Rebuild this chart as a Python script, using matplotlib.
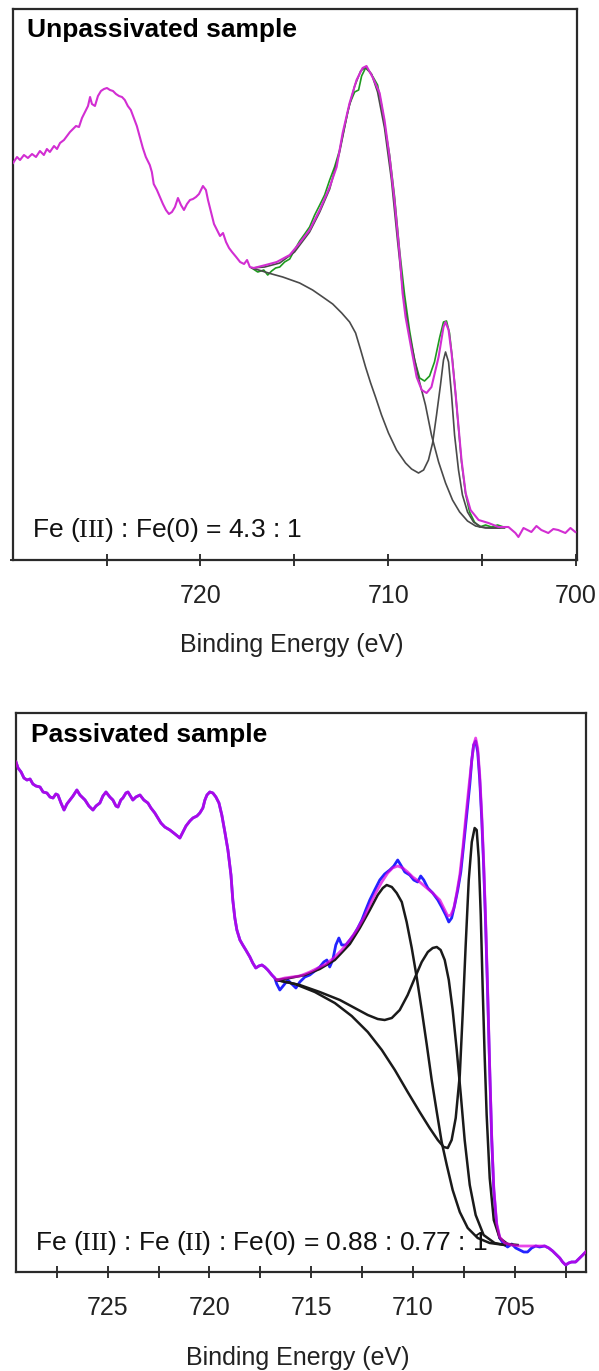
import matplotlib
matplotlib.use("Agg")
import matplotlib.pyplot as plt
from matplotlib.ticker import FixedLocator, FixedFormatter

plt.rcParams['mathtext.fontset'] = 'custom'
plt.rcParams['mathtext.rm'] = 'Liberation Serif'
plt.rcParams['font.family'] = ['Liberation Sans', 'DejaVu Sans']

# ---------------- data (binding energy eV, intensity a.u.) ----------------
# Top panel: unpassivated sample
top_data = [(729.98, 397), (729.77, 403), (729.61, 400), (729.40, 405), (729.19, 402), (728.97, 406),
            (728.76, 403), (728.55, 409), (728.34, 405), (728.18, 411), (728.02, 408), (727.80, 414),
            (727.64, 411), (727.48, 417), (727.27, 420), (727.11, 424), (726.95, 428), (726.79, 431),
            (726.63, 434), (726.47, 433), (726.31, 442), (726.15, 448), (725.99, 454), (725.88, 463),
            (725.78, 456), (725.62, 454), (725.46, 464), (725.30, 469), (725.14, 471), (724.98, 472),
            (724.82, 470), (724.66, 469), (724.50, 466), (724.34, 464), (724.18, 463), (724.03, 460),
            (723.87, 454), (723.71, 450), (723.55, 442), (723.39, 434), (723.23, 423), (723.07, 412),
            (722.91, 403), (722.70, 395), (722.59, 388), (722.49, 376), (722.32, 370), (722.16, 363),
            (722.00, 356), (721.84, 350), (721.68, 346), (721.52, 348), (721.36, 353), (721.20, 362),
            (721.04, 355), (720.88, 350), (720.72, 356), (720.56, 360), (720.40, 361), (720.24, 363),
            (720.08, 366), (719.87, 374), (719.71, 370), (719.60, 360), (719.44, 348), (719.28, 336),
            (719.12, 330), (718.96, 324), (718.80, 327), (718.64, 318), (718.48, 312), (718.32, 308),
            (718.10, 303), (717.89, 298), (717.68, 296), (717.52, 300), (717.37, 293), (717.16, 292),
            (716.95, 293), (716.73, 294), (716.53, 295), (715.94, 298), (715.25, 305), (714.72, 317),
            (714.19, 330), (713.65, 350), (713.12, 373), (712.75, 393), (712.43, 427), (712.06, 457),
            (711.69, 480), (711.37, 492), (711.16, 494), (710.84, 483), (710.46, 467), (710.20, 440),
            (709.93, 403), (709.67, 360), (709.40, 307), (709.24, 267), (709.08, 243), (708.76, 210),
            (708.49, 183), (708.22, 170), (707.96, 167), (707.70, 173), (707.32, 203), (707.06, 233),
            (706.95, 238), (706.79, 230), (706.63, 207), (706.42, 167), (706.26, 133), (706.10, 100),
            (705.88, 67), (705.62, 50), (705.19, 40), (704.66, 37), (704.13, 33), (703.60, 33),
            (703.23, 27), (703.07, 23), (702.80, 32), (702.38, 28), (702.11, 34), (701.85, 30),
            (701.48, 27), (701.21, 31), (700.95, 30), (700.57, 27), (700.30, 32), (700.04, 28)]

top_green = [(717.27, 292), (716.95, 288), (716.63, 290), (716.42, 285), (716.21, 289), (716.00, 292),
             (715.78, 293), (715.52, 298), (715.25, 301), (714.99, 310), (714.72, 319), (714.45, 326),
             (714.19, 333), (713.92, 345), (713.65, 355), (713.39, 365), (713.12, 380), (712.86, 393),
             (712.59, 410), (712.32, 434), (712.06, 456), (711.79, 468), (711.58, 470), (711.42, 484),
             (711.21, 492), (710.99, 488), (710.78, 482), (710.57, 475), (710.36, 455), (710.15, 430),
             (709.93, 405), (709.67, 364), (709.40, 310), (709.13, 265), (708.87, 230), (708.60, 200),
             (708.33, 182), (708.07, 179), (707.80, 184), (707.54, 198), (707.27, 222), (707.06, 238),
             (706.90, 239), (706.74, 227), (706.58, 200), (706.42, 167), (706.26, 132), (706.10, 98),
             (705.88, 66), (705.67, 48), (705.41, 38), (705.14, 33), (704.82, 35), (704.50, 33),
             (704.18, 35), (703.86, 33)]

top_fe3_bkg = [(717.27, 292), (716.58, 293), (715.78, 297), (714.99, 308), (714.19, 328), (713.65, 348),
               (713.12, 371), (712.59, 408), (712.16, 448), (711.79, 474), (711.47, 489), (711.21, 493),
               (710.89, 486), (710.57, 468), (710.20, 432), (709.83, 380), (709.51, 320), (709.19, 263),
               (708.87, 225), (708.39, 182), (708.02, 155), (707.70, 125), (707.32, 98), (706.95, 77),
               (706.58, 60), (706.20, 48), (705.78, 39), (705.35, 34), (704.82, 32), (704.07, 32)]

top_fe0_bkg = [(717.27, 292), (716.73, 289), (716.20, 286), (715.62, 283), (714.72, 277), (714.03, 270),
               (713.49, 263), (712.96, 256), (712.48, 247), (712.06, 238), (711.74, 227), (711.47, 210),
               (711.21, 193), (710.94, 177), (710.68, 163), (710.36, 145), (709.99, 127), (709.56, 110),
               (709.08, 97), (708.76, 91), (708.39, 87), (708.12, 90), (707.86, 100), (707.64, 117),
               (707.43, 145), (707.22, 175), (707.06, 200), (706.95, 208), (706.79, 198), (706.63, 165),
               (706.47, 125), (706.26, 90), (706.05, 65), (705.78, 48), (705.46, 38), (705.04, 33),
               (704.50, 32), (703.81, 32)]

# Bottom panel: passivated sample
bot_data = [(729.50, 510), (729.40, 504), (729.25, 500), (729.11, 494), (728.96, 492), (728.81, 493),
            (728.67, 488), (728.52, 486), (728.32, 485), (728.17, 480), (727.98, 479), (727.83, 475),
            (727.68, 474), (727.54, 478), (727.44, 477), (727.29, 469), (727.14, 462), (727.00, 468),
            (726.85, 472), (726.70, 476), (726.51, 482), (726.36, 477), (726.11, 472), (725.92, 466),
            (725.72, 462), (725.57, 466), (725.38, 469), (725.23, 476), (725.08, 480), (724.89, 475),
            (724.74, 472), (724.59, 466), (724.49, 465), (724.35, 472), (724.25, 474), (724.10, 479),
            (724.00, 480), (723.85, 475), (723.76, 472), (723.61, 475), (723.41, 477), (723.22, 472),
            (723.02, 469), (722.87, 464), (722.68, 459), (722.53, 454), (722.38, 449), (722.19, 445),
            (721.94, 442), (721.69, 438), (721.45, 434), (721.30, 440), (721.15, 446), (720.96, 451),
            (720.81, 454), (720.61, 456), (720.47, 459), (720.32, 464), (720.22, 472), (720.12, 477),
            (719.98, 480), (719.83, 479), (719.68, 475), (719.53, 469), (719.39, 457), (719.24, 440),
            (719.09, 422), (718.94, 397), (718.85, 372), (718.75, 354), (718.65, 342), (718.50, 332),
            (718.36, 327), (718.21, 322), (718.01, 315), (717.87, 309), (717.72, 304), (717.57, 306),
            (717.42, 307), (717.28, 305), (717.13, 302), (716.93, 297), (716.79, 294),
            (716.69, 288), (716.54, 282), (716.34, 287), (716.15, 292), (715.95, 288), (715.75, 284),
            (715.56, 290), (715.31, 295), (715.07, 297), (714.82, 301), (714.58, 305), (714.38, 310),
            (714.23, 312), (714.09, 305), (713.94, 312), (713.79, 327), (713.64, 334), (713.50, 327),
            (713.30, 327), (713.10, 332), (712.91, 337), (712.71, 344), (712.51, 352), (712.32, 362),
            (712.12, 372), (711.88, 382), (711.63, 392), (711.39, 398), (711.14, 402), (710.94, 406),
            (710.75, 412), (710.60, 407), (710.40, 400), (710.16, 397), (709.96, 392), (709.77, 390),
            (709.62, 396), (709.47, 392), (709.27, 384), (709.03, 379), (708.78, 372), (708.59, 365),
            (708.39, 357), (708.24, 350), (708.10, 354), (707.95, 367), (707.80, 382), (707.65, 400),
            (707.51, 427), (707.36, 457), (707.21, 487), (707.11, 512), (707.02, 527), (706.92, 531),
            (706.82, 520), (706.72, 492), (706.62, 452), (706.53, 407), (706.43, 347), (706.33, 277),
            (706.23, 202), (706.13, 132), (706.03, 82), (705.89, 47), (705.74, 34), (705.54, 28),
            (705.35, 25), (705.15, 28), (704.95, 24), (704.76, 22), (704.56, 20), (704.37, 20),
            (704.17, 24), (703.97, 26), (703.78, 25), (703.53, 26), (703.33, 24), (703.14, 21),
            (702.94, 17), (702.79, 14), (702.65, 10), (702.50, 7), (702.35, 9), (702.21, 10),
            (702.01, 10), (701.81, 14), (701.66, 17), (701.52, 20)]

bot_envelope = [(716.69, 292), (716.30, 294), (715.95, 295), (715.56, 296), (715.07, 300), (714.67, 304),
                (714.28, 308), (713.89, 314), (713.50, 322), (713.10, 332), (712.76, 342), (712.42, 354),
                (712.12, 367), (711.83, 379), (711.53, 390), (711.24, 399), (711.00, 404), (710.75, 406),
                (710.50, 404), (710.26, 400), (710.01, 395), (709.67, 390), (709.32, 384), (709.03, 379),
                (708.68, 372), (708.44, 362), (708.29, 356), (708.14, 357), (707.99, 364), (707.85, 379),
                (707.70, 397), (707.55, 424), (707.41, 454), (707.26, 484), (707.11, 512), (707.02, 527),
                (706.92, 534), (706.82, 524), (706.72, 497), (706.62, 457), (706.53, 412), (706.43, 352),
                (706.33, 282), (706.23, 204), (706.13, 134), (706.03, 84), (705.89, 49), (705.74, 35),
                (705.49, 29), (705.15, 27), (704.76, 26), (704.27, 26), (703.78, 26)]

bot_fe3_bkg = [(716.69, 292), (716.05, 294), (715.31, 297), (714.58, 303), (713.84, 312), (713.10, 328),
               (712.61, 344), (712.12, 362), (711.73, 377), (711.48, 384), (711.29, 387), (711.04, 385),
               (710.80, 379), (710.55, 370), (710.31, 350), (710.06, 324), (709.81, 294), (709.57, 262),
               (709.32, 227), (709.08, 192), (708.83, 160), (708.59, 130), (708.34, 107), (708.05, 82),
               (707.70, 60), (707.31, 44), (706.82, 34), (706.23, 29), (705.49, 27)]

bot_fe2_bkg = [(716.69, 292), (715.56, 287), (714.58, 280), (713.59, 272), (712.86, 264), (712.22, 257),
               (711.73, 253), (711.39, 252), (711.04, 254), (710.65, 262), (710.26, 277), (709.91, 294),
               (709.57, 310), (709.27, 320), (709.03, 324), (708.83, 325), (708.64, 322), (708.44, 312),
               (708.24, 292), (708.05, 262), (707.85, 222), (707.65, 177), (707.46, 132), (707.21, 87),
               (706.92, 57), (706.53, 37), (705.99, 29), (705.49, 27)]

bot_fe0_bkg = [(716.69, 292), (715.80, 288), (714.82, 280), (713.84, 269), (713.01, 256), (712.22, 240),
               (711.53, 222), (710.89, 202), (710.26, 180), (709.67, 160), (709.18, 144), (708.78, 132),
               (708.49, 125), (708.29, 124), (708.10, 132), (707.90, 154), (707.70, 197), (707.56, 257),
               (707.41, 327), (707.26, 392), (707.11, 430), (706.97, 444), (706.87, 442), (706.77, 414),
               (706.67, 357), (706.58, 287), (706.48, 217), (706.38, 157), (706.23, 94), (706.03, 52),
               (705.74, 34), (705.35, 28), (704.86, 27)]

top_ticks = [725, 720, 715, 710, 705, 700]
top_ticklabels = ['', '720', '', '710', '', '700']
bot_ticks = [727.5, 725, 722.5, 720, 717.5, 715, 712.5, 710, 707.5, 705, 702.5]
bot_ticklabels = ['', '725', '', '720', '', '715', '', '710', '', '705', '']

top_title = 'Unpassivated sample'
bot_title = 'Passivated sample'
top_ratio = r'Fe ($\mathrm{III}$) : Fe(0) = 4.3 : 1'
bot_ratio = r'Fe ($\mathrm{III}$) : Fe ($\mathrm{II}$) : Fe(0) = 0.88 : 0.77 : 1'
xlabel = 'Binding Energy (eV)'


def split(pairs):
    return [p[0] for p in pairs], [p[1] for p in pairs]


# ---------------- figure ----------------
W, H = 599, 1371
fig = plt.figure(figsize=(W / 100, H / 100), dpi=100)


def px_rect(x0, y0, x1, y1):
    return [x0 / W, 1 - y1 / H, (x1 - x0) / W, (y1 - y0) / H]


def fx(px):
    return px / W


def fy(py):
    return 1 - py / H


ax1 = fig.add_axes(px_rect(12.7, 9, 577, 560))
ax2 = fig.add_axes(px_rect(16, 713, 586, 1272))

# top panel curves
x, y = split(top_green)
ax1.plot(x, y, color='#1f9a1f', lw=1.2, zorder=2)
x, y = split(top_fe3_bkg)
ax1.plot(x, y, color='#4a4a4a', lw=1.2, zorder=3)
x, y = split(top_fe0_bkg)
ax1.plot(x, y, color='#4a4a4a', lw=1.2, zorder=3)
x, y = split(top_data)
ax1.plot(x, y, color='#d22ed2', lw=1.5, zorder=4)

# bottom panel curves
x, y = split(bot_data)
ax2.plot(x, y, color='#2323ff', lw=2.0, zorder=2)
for comp in (bot_fe3_bkg, bot_fe2_bkg, bot_fe0_bkg):
    x, y = split(comp)
    ax2.plot(x, y, color='#1a1a1a', lw=1.8, zorder=3)
env_start = bot_envelope[0][0]
env_end = bot_envelope[-1][0]
magenta = ([p for p in bot_data if p[0] > env_start] + bot_envelope +
           [p for p in bot_data if p[0] < env_end])
x, y = split(magenta)
ax2.plot(x, y, color='#e000e0', lw=2.0, alpha=0.72, zorder=4)

# axes styling
for ax, xl, yl, ticks, labels in ((ax1, (730, 699.95), (0, 551), top_ticks, top_ticklabels),
                                  (ax2, (729.5, 701.5), (0, 559), bot_ticks, bot_ticklabels)):
    ax.set_xlim(*xl)
    ax.set_ylim(*yl)
    ax.xaxis.set_major_locator(FixedLocator(ticks))
    ax.xaxis.set_major_formatter(FixedFormatter(labels))
    ax.tick_params(axis='x', direction='inout', length=8, width=1.3, colors='#222222',
                   labelsize=18, pad=13)
    ax.set_yticks([])
    for s in ax.spines.values():
        s.set_linewidth(1.6)
        s.set_color('#2a2a2a')

# small corner mark at the top panel's lower-left
ax1.set_yticks([0])
ax1.set_yticklabels([''])
ax1.tick_params(axis='y', direction='out', length=2.5, width=1.3, colors='#222222')

# texts
fig.text(fx(27), fy(30), top_title, fontsize=19, fontweight='bold', ha='left', va='center')
fig.text(fx(31), fy(735), bot_title, fontsize=19, fontweight='bold', ha='left', va='center')
fig.text(fx(32), fy(537), top_ratio, fontsize=19, ha='left', va='baseline', color='#111111')
fig.text(fx(35), fy(1250), bot_ratio, fontsize=19, ha='left', va='baseline', color='#111111')
fig.text(fx(292), fy(652), xlabel, fontsize=18, ha='center', va='baseline', color='#222222')
fig.text(fx(298), fy(1365), xlabel, fontsize=18, ha='center', va='baseline', color='#222222')

fig.savefig('out.png', dpi=100)
